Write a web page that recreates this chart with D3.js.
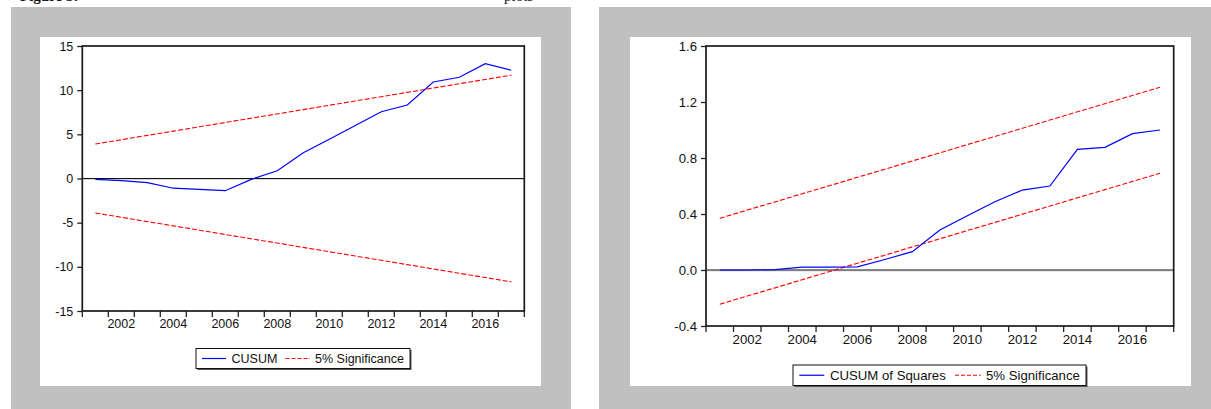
<!DOCTYPE html>
<html>
<head>
<meta charset="utf-8">
<script src="https://cdn.jsdelivr.net/npm/d3@7/dist/d3.min.js"></script>
<style>
  html, body { margin: 0; padding: 0; background: #fff; }
  svg { display: block; }
  text { font-family: "Liberation Sans", Arial, sans-serif; fill: #111; }
</style>
</head>
<body>
<svg id="chart" width="1211" height="409"></svg>
<script>
// Recursive residual stability tests, 2001-2017
const years = [2001, 2002, 2003, 2004, 2005, 2006, 2007, 2008, 2009,
               2010, 2011, 2012, 2013, 2014, 2015, 2016, 2017];
const yearLabels = [2002, 2004, 2006, 2008, 2010, 2012, 2014, 2016];

const cusum      = [-0.10, -0.25, -0.47, -1.10, -1.22, -1.38, -0.10, 0.88, 2.92,
                    4.45, 6.00, 7.56, 8.32, 10.93, 11.46, 13.00, 12.25];
const cusumUpper = [3.90, 4.39, 4.88, 5.36, 5.85, 6.34, 6.83, 7.31, 7.80,
                    8.29, 8.78, 9.26, 9.75, 10.24, 10.73, 11.21, 11.70];
const cusumLower = [-3.90, -4.39, -4.88, -5.36, -5.85, -6.34, -6.83, -7.31, -7.80,
                    -8.29, -8.78, -9.26, -9.75, -10.24, -10.73, -11.21, -11.70];
const cusumTicks = [-15, -10, -5, 0, 5, 10, 15];

const cusumSq      = [0.000, 0.000, 0.003, 0.020, 0.021, 0.023, 0.075, 0.131, 0.286,
                      0.388, 0.488, 0.571, 0.600, 0.862, 0.876, 0.974, 1.000];
const cusumSqUpper = [0.369, 0.428, 0.486, 0.545, 0.603, 0.662, 0.720, 0.779, 0.837,
                      0.896, 0.954, 1.013, 1.071, 1.130, 1.188, 1.247, 1.305];
const cusumSqLower = [-0.245, -0.186, -0.128, -0.069, -0.011, 0.048, 0.106, 0.165, 0.223,
                      0.282, 0.340, 0.399, 0.457, 0.516, 0.574, 0.633, 0.691];
const cusumSqTicks = [-0.4, 0.0, 0.4, 0.8, 1.2, 1.6];

const svg = d3.select("#chart");

// caption line above the panels (its lower edge peeks out at the top of the page)
svg.append("text").attr("x", 20).attr("y", 0.5)
  .style("font-family", "'Liberation Serif', 'Times New Roman', serif")
  .style("font-weight", "bold").style("font-size", "15px")
  .text("Figure 5:");
svg.append("text").attr("x", 504).attr("y", 0.5)
  .style("font-family", "'Liberation Serif', 'Times New Roman', serif")
  .style("font-size", "15px")
  .text("plots");

// ASCII hyphen for negative tick labels
const hyphen = f => d => f(d).replace("\u2212", "-");

function drawPanel(cfg) {
  const g = svg.append("g");
  // grey matte and white card
  g.append("rect").attr("x", cfg.matte[0]).attr("y", cfg.matte[1])
    .attr("width", cfg.matte[2]).attr("height", cfg.matte[3]).attr("fill", "#c0c0c0");
  g.append("rect").attr("x", cfg.card[0]).attr("y", cfg.card[1])
    .attr("width", cfg.card[2]).attr("height", cfg.card[3]).attr("fill", "#ffffff");

  const [x0, x1, y0, y1] = cfg.plot; // left, right, top, bottom
  const x = d3.scaleBand().domain(cfg.years).range([x0, x1]).padding(0);
  const cx = d => x(d) + x.bandwidth() / 2;
  const y = d3.scaleLinear().domain(cfg.domain).range([y1, y0]);
  const fs = cfg.fontSize + "px";

  // y axis labels and ticks
  const ya = g.append("g").attr("transform", `translate(${x0},0)`)
    .call(d3.axisLeft(y).tickValues(cfg.ticks).tickSize(5).tickPadding(4)
      .tickFormat(hyphen(cfg.fmt)));
  ya.select(".domain").remove();
  ya.selectAll("line").attr("stroke", "#222").attr("stroke-width", 1.3);
  ya.selectAll("text").style("font-size", fs).style("font-family", "'Liberation Sans', Arial, sans-serif")
    .attr("fill", "#111");

  // x ticks on every year boundary, labels on alternate years
  const bounds = cfg.years.map(d => x(d)).concat([x1]);
  g.selectAll(null).data(bounds).enter().append("line")
    .attr("x1", d => d).attr("x2", d => d)
    .attr("y1", y1).attr("y2", y1 + 6)
    .attr("stroke", "#222").attr("stroke-width", 1.3);
  g.selectAll(null).data(cfg.labels).enter().append("text")
    .attr("x", d => cx(d)).attr("y", y1 + cfg.labelOffset)
    .attr("text-anchor", "middle").style("font-size", fs)
    .text(d => d);

  // zero reference line
  g.append("line").attr("x1", x0).attr("x2", x1)
    .attr("y1", y(0) + 1).attr("y2", y(0) + 1)
    .attr("stroke", "#d8d8d8").attr("stroke-width", 1);
  g.append("line").attr("x1", x0).attr("x2", x1)
    .attr("y1", y(0)).attr("y2", y(0))
    .attr("stroke", "#111").attr("stroke-width", 1.2);

  const line = d3.line().x(d => cx(d[0])).y(d => y(d[1]));
  const pairs = arr => cfg.years.map((yr, i) => [yr, arr[i]]);

  [cfg.upper, cfg.lower].forEach(b => {
    g.append("path").attr("d", line(pairs(b)))
      .attr("fill", "none").attr("stroke", "#ff0000").attr("stroke-width", 1.1)
      .attr("stroke-dasharray", "5,2");
  });
  g.append("path").attr("d", line(pairs(cfg.series)))
    .attr("fill", "none").attr("stroke", "#0000ff").attr("stroke-width", 1.2);

  // plot frame
  g.append("rect").attr("x", x0).attr("y", y0)
    .attr("width", x1 - x0).attr("height", y1 - y0)
    .attr("fill", "none").attr("stroke", "#1a1a1a").attr("stroke-width", 1.7);

  // legend
  const L = cfg.legend;
  g.append("rect").attr("x", L.x + 1.5).attr("y", L.y + 1.5)
    .attr("width", L.w).attr("height", L.h).attr("fill", "#555");
  g.append("rect").attr("x", L.x).attr("y", L.y)
    .attr("width", L.w).attr("height", L.h).attr("fill", "#fff")
    .attr("stroke", "#111").attr("stroke-width", 1);
  const my = L.y + L.h / 2;
  g.append("line").attr("x1", L.blue[0]).attr("x2", L.blue[1])
    .attr("y1", my).attr("y2", my).attr("stroke", "#0000ff").attr("stroke-width", 1.2);
  g.append("text").attr("x", L.blueText).attr("y", my + cfg.fontSize * 0.36)
    .style("font-size", fs).text(cfg.name);
  g.append("line").attr("x1", L.red[0]).attr("x2", L.red[1])
    .attr("y1", my).attr("y2", my).attr("stroke", "#ff0000").attr("stroke-width", 1.1)
    .attr("stroke-dasharray", "4,2");
  g.append("text").attr("x", L.redText).attr("y", my + cfg.fontSize * 0.36)
    .style("font-size", fs).text("5% Significance");
}

drawPanel({
  matte: [11, 7, 560, 402], card: [40, 37, 501, 349],
  plot: [82.3, 524.3, 46, 311],
  years, labels: yearLabels, domain: [-15, 15], ticks: cusumTicks,
  fmt: d3.format("d"), fontSize: 12.5, labelOffset: 17,
  series: cusum, upper: cusumUpper, lower: cusumLower, name: "CUSUM",
  legend: { x: 196, y: 348.5, w: 214, h: 20, blue: [202, 226], blueText: 231.5,
            red: [285.5, 310], redText: 315 }
});

drawPanel({
  matte: [599, 7, 612, 402], card: [630, 37, 561, 349],
  plot: [706, 1173.7, 46, 326],
  years, labels: yearLabels, domain: [-0.4, 1.6], ticks: cusumSqTicks,
  fmt: d3.format(".1f"), fontSize: 13.2, labelOffset: 18,
  series: cusumSq, upper: cusumSqUpper, lower: cusumSqLower, name: "CUSUM of Squares",
  legend: { x: 793, y: 365, w: 293, h: 20.5, blue: [799.3, 824.3], blueText: 830,
            red: [955, 980.7], redText: 986 }
});
</script>
</body>
</html>
